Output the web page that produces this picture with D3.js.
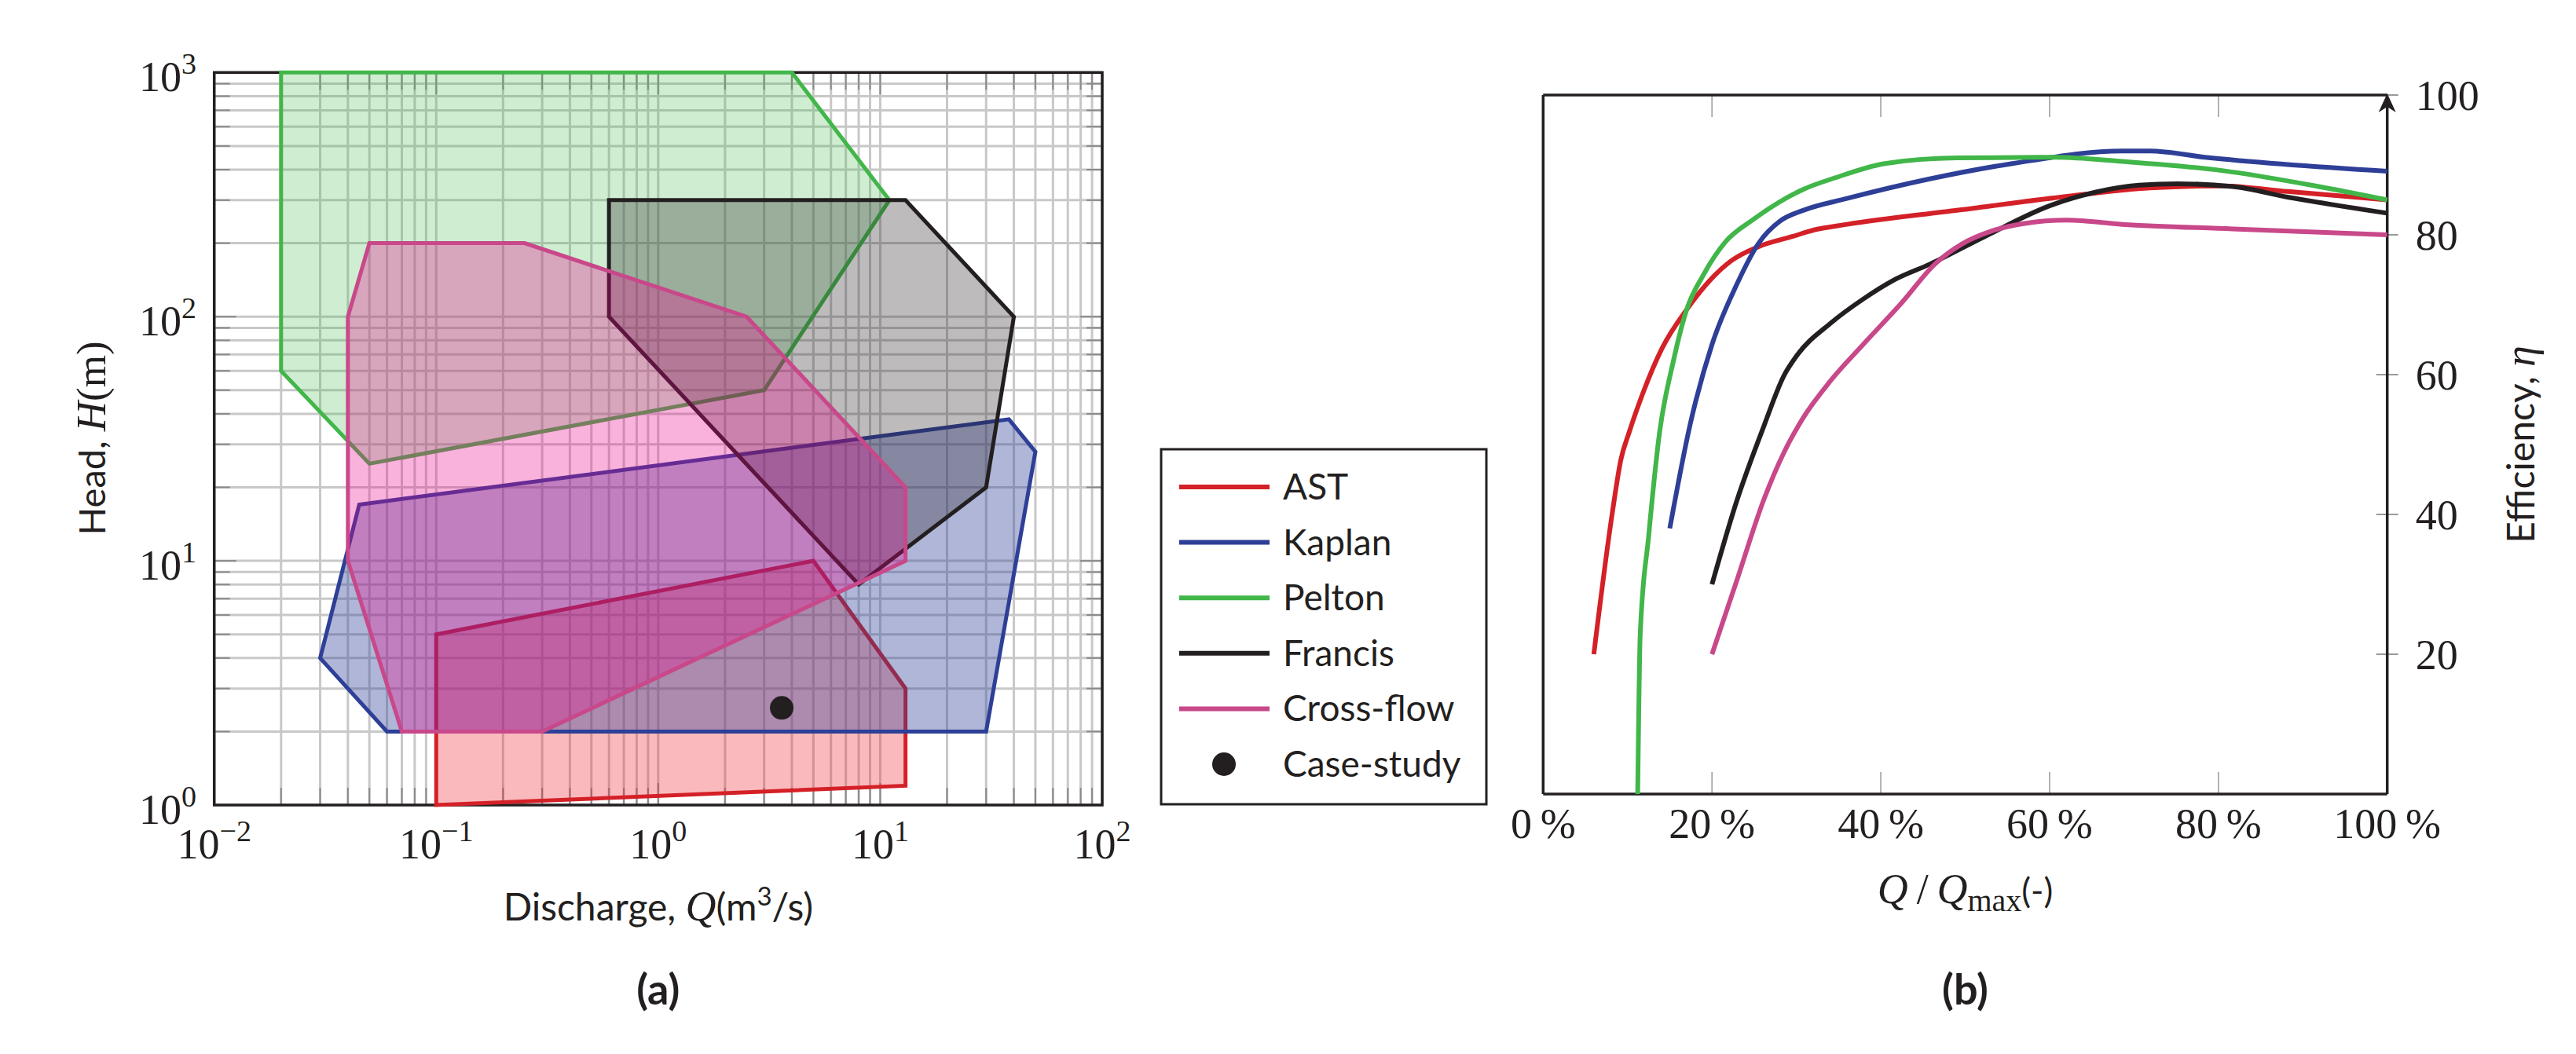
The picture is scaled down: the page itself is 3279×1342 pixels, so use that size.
<!DOCTYPE html>
<html><head><meta charset="utf-8">
<script src="https://cdn.jsdelivr.net/npm/d3@7"></script>
<style>body{margin:0;background:#fff} svg{display:block}</style>
</head><body>
<svg id="c" width="3279" height="1342"></svg>
<script>
// ---------- DATA ----------
// Panel (a): operating envelopes, [Q (m3/s), H (m)]
const astPoly = [[0.1,5],[5,10],[13,3],[13,1.2],[0.1,1]];
const kaplanPoly = [[0.03,4],[0.045,17],[38,38],[50,28],[30,2],[0.06,2]];
const peltonPoly = [[0.02,1000],[4,1000],[11,300],[3,50],[0.05,25],[0.02,60]];
const francisPoly = [[0.6,300],[13,300],[40,100],[30,20],[8,8],[0.6,100]];
const crossflowPoly = [[0.05,200],[0.25,200],[2.5,100],[13,20],[13,10],[0.3,2],[0.07,2],[0.04,10],[0.04,100]];
const caseStudy = [3.6, 2.5];
const xTickExpA = [-2, -1, 0, 1, 2];
const yTickExpA = [0, 1, 2, 3];

// Panel (b): efficiency curves, Q/Qmax (%) vs efficiency
const astX = [6,8.2,9.2,10.2,11.8,14.1,17,20,22.3,25.5,29.5,32.1,36,49,62.1,71.9,80.4,88.2,100];
const astY = [20,40.3,47.8,51.8,57.3,63.8,69.3,73.8,76.3,78.3,79.75,80.7,81.5,83.5,85.5,86.7,87,86.2,85];
const kaplanX = [15,17.4,20,22.9,25.5,28.1,30.8,36,45.8,55.6,68.6,71.9,78.4,100];
const kaplanY = [38,52.8,64.3,72.8,78.75,82,83.5,85.2,88,90.2,92,92,91.1,89.1];
const peltonX = [11.2,11.5,12.5,13.8,15.4,17,19,21.6,24.9,30.8,34.7,40.5,49,60.8,68.6,80.4,91.5,100];
const peltonY = [0,22.9,36.9,51.8,61.8,69.3,74.3,79,82.2,86.5,88.2,90.2,91,91.1,90.5,89.2,87,85];
const francisX = [20,22.9,26.2,28.5,30.1,34,37.9,41.5,45.8,52.3,60.1,65.4,70.6,75.2,81.7,88.2,100];
const francisY = [30,41.8,52.8,59.8,62.8,67.3,70.8,73.5,75.8,79.75,84.2,86.1,87.1,87.3,86.9,85.4,83.1];
const crossX = [20,22.9,26.2,28.5,30.8,34,37.9,42.5,46.4,49.7,53,56.9,62.1,68.6,81.7,100];
const crossY = [20,30.4,42.3,48.8,53.8,59.05,64.3,70.3,75.8,78.75,80.5,81.6,82.1,81.5,80.85,80];
const xTicksB = [0,20,40,60,80,100];
const yTicksB = [20,40,60,80,100];

const seriesNames = ["AST","Kaplan","Pelton","Francis","Cross-flow"];

// ---------- STYLE ----------
const col = {
  AST:{stroke:"#d42027", fill:"#ee1c25", op:0.3},
  Kaplan:{stroke:"#2e3f97", fill:"#2e3f97", op:0.38},
  Pelton:{stroke:"#41b649", fill:"#41b649", op:0.25},
  Francis:{stroke:"#231f20", fill:"#231f20", op:0.3},
  "Cross-flow":{stroke:"#c8488a", fill:"#ec008c", op:0.3}
};
const SANS = "Lato, 'Open Sans', sans-serif";
const SERIF = "'Liberation Serif', 'DejaVu Serif', serif";
const INK = "#231f20";

const svg = d3.select("#c");

// ---------- PANEL A ----------
const A = {l:272.7, r:1403, t:92.3, b:1025};
const xA = d3.scaleLog().domain([0.01,100]).range([A.l,A.r]);
const yA = d3.scaleLog().domain([1,1000]).range([A.b,A.t]);

const xGrid = [], yGrid = [];
for (let k=-2;k<=1;k++) for (let m=1;m<=9;m++) xGrid.push(m*Math.pow(10,k));
xGrid.push(100);
for (let k=0;k<=2;k++) for (let m=1;m<=9;m++) yGrid.push(m*Math.pow(10,k));
yGrid.push(1000);

const gA = svg.append("g");
gA.selectAll("line.gx").data(xGrid).join("line")
  .attr("x1",d=>xA(d)).attr("x2",d=>xA(d)).attr("y1",A.t).attr("y2",A.b)
  .attr("stroke","#c8c8c8").attr("stroke-width",3);
gA.selectAll("line.gy").data(yGrid).join("line")
  .attr("y1",d=>yA(d)).attr("y2",d=>yA(d)).attr("x1",A.l).attr("x2",A.r)
  .attr("stroke","#c8c8c8").attr("stroke-width",3);

// ticks (inward, all sides)
const isMajor = v => Math.abs(Math.log10(v)-Math.round(Math.log10(v)))<1e-9;
const tickCol = "#8a8a8a";
xGrid.forEach(v=>{
  const L = isMajor(v)?28:22;
  gA.append("line").attr("x1",xA(v)).attr("x2",xA(v)).attr("y1",A.b).attr("y2",A.b-L).attr("stroke",tickCol).attr("stroke-width",2);
  gA.append("line").attr("x1",xA(v)).attr("x2",xA(v)).attr("y1",A.t).attr("y2",A.t+L).attr("stroke",tickCol).attr("stroke-width",2);
});
yGrid.forEach(v=>{
  const L = isMajor(v)?28:20;
  gA.append("line").attr("y1",yA(v)).attr("y2",yA(v)).attr("x1",A.l).attr("x2",A.l+L).attr("stroke",tickCol).attr("stroke-width",2);
  gA.append("line").attr("y1",yA(v)).attr("y2",yA(v)).attr("x1",A.r).attr("x2",A.r-L).attr("stroke",tickCol).attr("stroke-width",2);
});

gA.append("rect").attr("x",A.l).attr("y",A.t).attr("width",A.r-A.l).attr("height",A.b-A.t)
  .attr("fill","none").attr("stroke",INK).attr("stroke-width",3.5);

const polyLine = d3.line().x(d=>xA(d[0])).y(d=>yA(d[1]));
const polys = [["AST",astPoly],["Kaplan",kaplanPoly],["Pelton",peltonPoly],["Francis",francisPoly],["Cross-flow",crossflowPoly]];
polys.forEach(([name,pts])=>{
  gA.append("path").attr("d",polyLine(pts)+"Z")
    .attr("fill",col[name].fill).attr("fill-opacity",col[name].op)
    .attr("stroke",col[name].stroke).attr("stroke-width",5).attr("stroke-linejoin","miter");
});
gA.append("circle").attr("cx",xA(caseStudy[0])).attr("cy",yA(caseStudy[1])).attr("r",15).attr("fill",INK);

// tick labels
xTickExpA.forEach(e=>{
  const t = gA.append("text").attr("x",xA(Math.pow(10,e))).attr("y",A.b+68)
    .attr("text-anchor","middle").attr("font-family",SERIF).attr("font-size",54).attr("fill",INK);
  t.append("tspan").text("10");
  t.append("tspan").attr("dy",-22).attr("font-size",38).text(e<0?"\u2212"+(-e):String(e));
});
yTickExpA.forEach(e=>{
  const t = gA.append("text").attr("x",250).attr("y",yA(Math.pow(10,e))+24)
    .attr("text-anchor","end").attr("font-family",SERIF).attr("font-size",54).attr("fill",INK);
  t.append("tspan").text("10");
  t.append("tspan").attr("dy",-22).attr("font-size",38).text(String(e));
});

// axis labels
{
  const t = gA.append("text").attr("x",(A.l+A.r)/2).attr("y",1172).attr("text-anchor","middle")
    .attr("font-family",SANS).attr("font-size",48).attr("fill",INK);
  t.append("tspan").text("Discharge, ");
  t.append("tspan").attr("font-family",SERIF).attr("font-style","italic").attr("font-size",54).text("Q");
  t.append("tspan").text("(m");
  t.append("tspan").attr("dy",-19).attr("font-size",33).text("3");
  t.append("tspan").attr("dy",19).text("/s)");
}
{
  const t = gA.append("text").attr("transform","translate(134,558) rotate(-90)").attr("text-anchor","middle")
    .attr("font-family",SANS).attr("font-size",47).attr("fill",INK);
  t.append("tspan").text("Head, ");
  t.append("tspan").attr("font-family",SERIF).attr("font-style","italic").attr("font-size",53).text("H");
  t.append("tspan").attr("font-family",SERIF).attr("font-size",53).text("(m)");
}
gA.append("text").attr("x",(A.l+A.r)/2).attr("y",1279).attr("text-anchor","middle")
  .attr("font-family",SANS).attr("font-weight","bold").attr("font-size",54).attr("fill",INK).text("(a)");

// ---------- LEGEND ----------
const Lg = svg.append("g");
Lg.append("rect").attr("x",1478).attr("y",572).attr("width",414).attr("height",452)
  .attr("fill","#fff").attr("stroke",INK).attr("stroke-width",3);
seriesNames.forEach((n,i)=>{
  const y = 620 + i*70.6;
  Lg.append("line").attr("x1",1501).attr("x2",1616).attr("y1",y).attr("y2",y)
    .attr("stroke",col[n].stroke).attr("stroke-width",6);
  Lg.append("text").attr("x",1633).attr("y",y+16).attr("font-family",SANS).attr("font-size",46).attr("fill",INK).text(n);
});
Lg.append("circle").attr("cx",1558).attr("cy",620+5*70.6).attr("r",15).attr("fill",INK);
Lg.append("text").attr("x",1633).attr("y",620+5*70.6+16).attr("font-family",SANS).attr("font-size",46).attr("fill",INK).text("Case-study");

// ---------- PANEL B ----------
const B = {l:1964.3, r:3038.7, t:121, b:1011};
const xB = d3.scaleLinear().domain([0,100]).range([B.l,B.r]);
const yB = d3.scaleLinear().domain([0,100]).range([B.b,B.t]);
const gB = svg.append("g");

// inner x ticks
xTicksB.filter(v=>v>0&&v<100).forEach(v=>{
  gB.append("line").attr("x1",xB(v)).attr("x2",xB(v)).attr("y1",B.b).attr("y2",B.b-28).attr("stroke","#a0a0a0").attr("stroke-width",1.6);
  gB.append("line").attr("x1",xB(v)).attr("x2",xB(v)).attr("y1",B.t).attr("y2",B.t+28).attr("stroke","#a0a0a0").attr("stroke-width",1.6);
});
yTicksB.forEach(v=>{
  gB.append("line").attr("x1",B.r-14).attr("x2",B.r+14).attr("y1",yB(v)).attr("y2",yB(v)).attr("stroke","#9a9a9a").attr("stroke-width",2);
});

// frame
gB.append("line").attr("x1",B.l).attr("x2",B.r).attr("y1",B.t).attr("y2",B.t).attr("stroke",INK).attr("stroke-width",3.5);
gB.append("line").attr("x1",B.l).attr("x2",B.r).attr("y1",B.b).attr("y2",B.b).attr("stroke",INK).attr("stroke-width",3.5);
gB.append("line").attr("x1",B.l).attr("x2",B.l).attr("y1",B.t).attr("y2",B.b).attr("stroke",INK).attr("stroke-width",3.5);
gB.append("line").attr("x1",B.r).attr("x2",B.r).attr("y1",B.t+14).attr("y2",B.b).attr("stroke",INK).attr("stroke-width",3.5);
// arrow head
gB.append("path").attr("d",`M${B.r},${B.t-2} L${B.r+11},${B.t+22} L${B.r},${B.t+15} L${B.r-11},${B.t+22} Z`).attr("fill",INK);

// curves
const curveData = [["AST",astX,astY],["Kaplan",kaplanX,kaplanY],["Pelton",peltonX,peltonY],["Francis",francisX,francisY],["Cross-flow",crossX,crossY]];
const ln = d3.line().x(d=>xB(d[0])).y(d=>yB(d[1])).curve(d3.curveMonotoneX);
curveData.forEach(([n,xs,ys])=>{
  gB.append("path").attr("d",ln(xs.map((x,i)=>[x,ys[i]]))).attr("fill","none")
    .attr("stroke",col[n].stroke).attr("stroke-width",6).attr("stroke-linejoin","round");
});

// tick labels
xTicksB.forEach(v=>{
  gB.append("text").attr("x",xB(v)).attr("y",B.b+56).attr("text-anchor","middle")
    .attr("font-family",SERIF).attr("font-size",54).attr("fill",INK).text(v+"\u2009%");
});
yTicksB.forEach(v=>{
  gB.append("text").attr("x",B.r+36).attr("y",yB(v)+19).attr("text-anchor","start")
    .attr("font-family",SERIF).attr("font-size",54).attr("fill",INK).text(v);
});

// axis labels
{
  const t = gB.append("text").attr("x",(B.l+B.r)/2).attr("y",1150).attr("text-anchor","middle")
    .attr("font-family",SERIF).attr("font-size",54).attr("fill",INK);
  t.append("tspan").attr("font-style","italic").text("Q");
  t.append("tspan").text("\u2009/\u2009");
  t.append("tspan").attr("font-style","italic").text("Q");
  t.append("tspan").attr("dy",10).attr("font-size",40).text("max");
  t.append("tspan").attr("dy",-10).attr("font-family",SANS).attr("font-size",44).text("(-)");
}
{
  const t = gB.append("text").attr("transform","translate(3226,566) rotate(-90)").attr("text-anchor","middle")
    .attr("font-family",SANS).attr("font-size",48).attr("fill",INK);
  t.append("tspan").text("Efficiency, ");
  t.append("tspan").attr("font-family",SERIF).attr("font-style","italic").attr("font-size",54).text("\u03b7");
}
gB.append("text").attr("x",(B.l+B.r)/2).attr("y",1279).attr("text-anchor","middle")
  .attr("font-family",SANS).attr("font-weight","bold").attr("font-size",54).attr("fill",INK).text("(b)");
</script>
</body></html>
